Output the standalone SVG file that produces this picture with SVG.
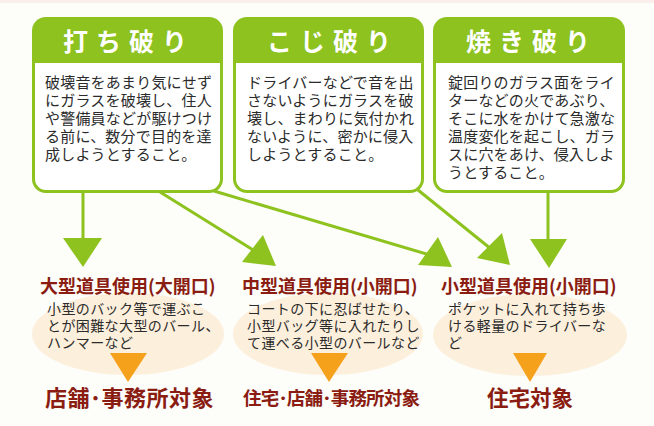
<svg xmlns="http://www.w3.org/2000/svg" width="654" height="426" viewBox="0 0 654 426">
<defs>
<style>
.bg{fill:#fdfdf9}
.frame{fill:#8dc21f}
.inner{fill:#ffffff}
.title{font-family:"Noto Sans CJK JP","Noto Sans",sans-serif;font-size:25px;font-weight:700;fill:#ffffff;letter-spacing:8px}
.body{font-family:"Noto Sans CJK JP","Noto Sans",sans-serif;font-size:15px;fill:#2b2b2b;letter-spacing:0.2px}
.head{font-family:"Noto Sans CJK JP","Noto Sans",sans-serif;font-size:18px;font-weight:700;fill:#8a1c12}
.small{font-family:"Noto Sans CJK JP","Noto Sans",sans-serif;font-size:14px;fill:#2b2b2b;letter-spacing:0.4px}
.target{font-family:"Noto Sans CJK JP","Noto Sans",sans-serif;font-weight:700;fill:#8a1c12}
.blob{fill:#fcefdc}
.ora{fill:#f6a11c}
.ln{stroke:#8dc21f;stroke-width:3;fill:none}
.ah{fill:#8dc21f}
</style>
</defs>
<rect class="bg" x="0" y="0" width="654" height="426"/>
<rect x="0" y="0" width="654" height="3" fill="#fbefeb"/>

<g id="connectors">
<line class="ln" x1="83" y1="192" x2="83" y2="245"/>
<polygon class="ah" points="63,238 102,238 83,267"/>
<line class="ln" x1="160" y1="192" x2="258" y2="253"/>
<polygon class="ah" points="242,262 263,235 276,266"/>
<line class="ln" x1="214" y1="191" x2="440" y2="258"/>
<polygon class="ah" points="418,265 438,237 452,267"/>
<line class="ln" x1="418" y1="190" x2="496" y2="253"/>
<polygon class="ah" points="477,258 502,233 510,265"/>
<line class="ln" x1="548" y1="191" x2="548" y2="245"/>
<polygon class="ah" points="530,239 567,239 549,268"/>
</g>

<g id="node-uchiyaburi">
<rect class="frame" x="32" y="17" width="191" height="176" rx="14"/>
<path class="inner" d="M35,63 H220 V179 A11,11 0 0 1 209,190 H46 A11,11 0 0 1 35,179 Z"/>
<text class="title" x="63" y="51">打ち破り</text>
<text class="body" x="45" y="88">破壊音をあまり気にせず</text>
<text class="body" x="45" y="106">にガラスを破壊し、住人</text>
<text class="body" x="45" y="124">や警備員などが駆けつけ</text>
<text class="body" x="45" y="142">る前に、数分で目的を達</text>
<text class="body" x="45" y="160">成しようとすること。</text>
</g>

<g id="node-kojiyaburi">
<rect class="frame" x="233" y="17" width="191" height="176" rx="14"/>
<path class="inner" d="M236,63 H421 V179 A11,11 0 0 1 410,190 H247 A11,11 0 0 1 236,179 Z"/>
<text class="title" x="267" y="51">こじ破り</text>
<text class="body" x="247" y="88">ドライバーなどで音を出</text>
<text class="body" x="247" y="106">さないようにガラスを破</text>
<text class="body" x="247" y="124">壊し、まわりに気付かれ</text>
<text class="body" x="247" y="142">ないように、密かに侵入</text>
<text class="body" x="247" y="160">しようとすること。</text>
</g>

<g id="node-yakiyaburi">
<rect class="frame" x="433" y="17" width="192" height="176" rx="14"/>
<path class="inner" d="M436,63 H622 V179 A11,11 0 0 1 611,190 H447 A11,11 0 0 1 436,179 Z"/>
<text class="title" x="466" y="51">焼き破り</text>
<text class="body" x="448" y="88">錠回りのガラス面をライ</text>
<text class="body" x="448" y="106">ターなどの火であぶり、</text>
<text class="body" x="448" y="124">そこに水をかけて急激な</text>
<text class="body" x="448" y="142">温度変化を起こし、ガラ</text>
<text class="body" x="448" y="160">スに穴をあけ、侵入しよ</text>
<text class="body" x="448" y="178">うとすること。</text>
</g>

<g id="node-large">
<ellipse class="blob" cx="128" cy="334" rx="96" ry="41"/>
<text class="head" x="40" y="293">大型道具使用(大開口)</text>
<text class="small" x="47" y="314">小型のバック等で運ぶこ</text>
<text class="small" x="47" y="331">とが困難な大型のバール、</text>
<text class="small" x="47" y="348">ハンマーなど</text>
<polygon class="ora" points="110,353 147,353 128,382"/>
<text class="target" x="45" y="406" font-size="22" letter-spacing="0.5">店舗･事務所対象</text>
</g>

<g id="node-medium">
<ellipse class="blob" cx="328" cy="334" rx="95" ry="41"/>
<text class="head" x="242" y="293">中型道具使用(小開口)</text>
<text class="small" x="247" y="314">コートの下に忍ばせたり、</text>
<text class="small" x="247" y="331">小型バッグ等に入れたりし</text>
<text class="small" x="247" y="348">て運べる小型のバールなど</text>
<polygon class="ora" points="311,353 348,353 329,382"/>
<text class="target" x="243" y="405" font-size="18.5" letter-spacing="-0.8">住宅･店舗･事務所対象</text>
</g>

<g id="node-small">
<ellipse class="blob" cx="530" cy="335" rx="97" ry="41"/>
<text class="head" x="441" y="293">小型道具使用(小開口)</text>
<text class="small" x="448" y="314">ポケットに入れて持ち歩</text>
<text class="small" x="448" y="331">ける軽量のドライバーな</text>
<text class="small" x="448" y="348">ど</text>
<polygon class="ora" points="513,353 547,353 530,382"/>
<text class="target" x="487" y="406" font-size="21.5">住宅対象</text>
</g>
</svg>
